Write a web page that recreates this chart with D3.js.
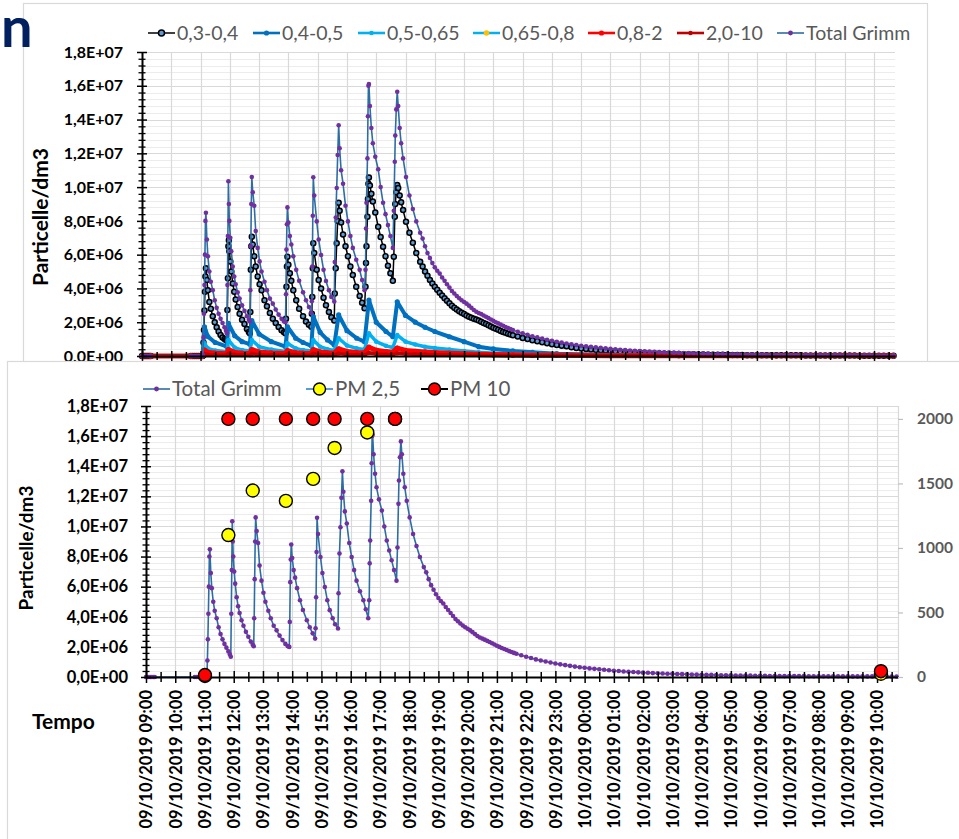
<!DOCTYPE html>
<html>
<head>
<meta charset="utf-8">
<script src="https://cdn.jsdelivr.net/npm/d3@7/dist/d3.min.js"></script>
<style>
  html, body { margin: 0; padding: 0; background: #fff; }
  svg { display: block; font-family: Lato, "Open Sans", "DejaVu Sans", sans-serif; }
</style>
</head>
<body>
<svg id="chart" width="959" height="839"></svg>
<script>
// ---------------------------------------------------------------------------
// Grimm particle counter, 09/10/2019 09:00 -> 10/10/2019 ~10:40
// times are minutes after 09/10/2019 09:00, counts in millions of particles/dm3
// ---------------------------------------------------------------------------
const minutes = [
  0, 3, 6, 9, 12, 15, 18, 100, 104, 108, 112, 116, 120, 124,
  125, 126, 127, 128, 129, 130, 131, 133, 135, 138, 141, 145, 149, 153, 157, 161, 165, 169, 172, 174,
  175, 176, 177, 178, 179, 181, 183, 186, 189, 192, 196, 200, 205, 210, 215, 219, 221,
  222, 223, 224, 225, 227, 230, 233, 237, 241, 245, 251, 256, 262, 268, 274, 280, 286, 291, 294,
  295, 296, 297, 298, 300, 303, 306, 310, 316, 322, 330, 336, 342, 347,
  348, 349, 350, 351, 353, 358, 362, 367, 372, 377, 383, 388, 394,
  395, 397, 399, 401, 403, 405, 408, 412, 417, 422, 427, 432, 439, 446, 451, 456,
  458, 459, 460, 462, 463, 464, 465, 467, 470, 473, 478, 484, 489, 494, 499, 504, 509, 514,
  516, 518, 519, 521, 523, 525, 528, 531, 535, 541, 548, 555, 562,
  570, 575, 580, 585, 590, 595, 600, 605, 610, 615, 620, 625, 630, 635, 640, 645, 650, 655, 660, 665,
  670, 675, 680, 685, 690, 695, 700, 705, 710, 715, 720, 725, 730, 735, 740, 745, 750, 755, 760,
  770, 780, 790, 800, 810, 820, 830, 840, 850, 860, 870, 880, 890, 900, 910, 920, 930, 940, 950, 960,
  970, 980, 990, 1000, 1010, 1020, 1030, 1040, 1050, 1060, 1070, 1080, 1090, 1100, 1110, 1120, 1130, 1140, 1150, 1160,
  1170, 1180, 1190, 1200, 1210, 1220, 1230, 1240, 1250, 1260, 1270, 1280, 1290, 1300, 1310, 1320, 1330, 1340, 1350, 1360,
  1370, 1380, 1390, 1400, 1410, 1420, 1430, 1440, 1450, 1460, 1470, 1480, 1490, 1500, 1510, 1520, 1530, 1540
];

const totalGrimm = [
  0, 0, 0, 0, 0, 0, 0, 0, 0, 0, 0, 0, 0, 0,
  0.05, 1.1, 2.5, 4.2, 6.0, 8.0, 8.48, 6.9, 5.9, 5.0, 4.4, 3.9, 3.3, 2.85, 2.5, 2.2, 1.95, 1.7, 1.5, 1.35,
  4.2, 7.1, 10.35, 9.0, 8.0, 7.0, 6.2, 5.3, 4.7, 4.25, 3.77, 3.4, 3.0, 2.67, 2.35, 2.15, 2.05,
  3.9, 6.5, 9.0, 10.6, 9.7, 8.9, 7.4, 6.4, 5.6, 5.0, 4.4, 3.9, 3.4, 3.1, 2.75, 2.45, 2.2, 2.05, 2.0,
  3.66, 6.3, 7.8, 8.8, 7.9, 7.1, 6.6, 5.9, 5.1, 4.45, 3.77, 3.3, 2.9, 2.55,
  3.24, 5.3, 8.3, 10.58, 9.5, 7.97, 6.9, 5.98, 5.1, 4.44, 3.9, 3.5, 3.22,
  5.56, 8.2, 9.95, 11.9, 13.66, 12.3, 11.0, 10.2, 8.9, 7.97, 7.1, 6.4, 5.7, 5.1, 4.5, 3.9,
  5.1, 7.55, 9.07, 11.7, 14.2, 16.0, 16.1, 14.8, 13.5, 12.6, 11.8, 11.06, 10.0, 9.07, 8.4, 7.75, 7.1, 6.4,
  8.6, 11.5, 13.05, 14.6, 15.65, 14.8, 13.5, 12.6, 11.7, 10.6, 9.5, 8.7, 7.97,
  7.3, 6.95, 6.5, 6.1, 5.8, 5.5, 5.25, 5.05, 4.88, 4.65, 4.45, 4.25, 4.05, 3.85, 3.7, 3.55, 3.42, 3.3, 3.2, 3.1,
  2.98, 2.85, 2.72, 2.62, 2.55, 2.48, 2.4, 2.32, 2.24, 2.16, 2.08, 2.0, 1.93, 1.86, 1.79, 1.72, 1.66, 1.6, 1.54,
  1.44, 1.35, 1.26, 1.17, 1.1, 1.03, 0.96, 0.9, 0.84, 0.79, 0.74, 0.69, 0.65, 0.61, 0.57, 0.54, 0.51, 0.48, 0.45, 0.42,
  0.4, 0.37, 0.35, 0.33, 0.31, 0.29, 0.28, 0.26, 0.25, 0.23, 0.22, 0.21, 0.2, 0.19, 0.18, 0.17, 0.16, 0.15, 0.14, 0.14,
  0.13, 0.12, 0.12, 0.11, 0.1, 0.1, 0.09, 0.09, 0.08, 0.08, 0.08, 0.07, 0.07, 0.07, 0.06, 0.06, 0.06, 0.06, 0.06, 0.05,
  0.05, 0.05, 0.05, 0.05, 0.05, 0.05, 0.04, 0.04, 0.04, 0.04, 0.04, 0.04, 0.04, 0.04, 0.03, 0.03, 0.03, 0.03
];

const size03_04 = [
  0, 0, 0, 0, 0, 0, 0, 0, 0, 0, 0, 0, 0, 0,
  0.03, 0.8, 1.54, 2.7, 3.8, 4.7, 5.2, 4.5, 3.9, 3.2, 2.8, 2.35, 2.0, 1.7, 1.45, 1.25, 1.1, 1.0, 0.95, 0.9,
  2.72, 4.6, 6.5, 6.86, 6.2, 5.6, 5.0, 4.3, 3.8, 3.35, 2.9, 2.5, 2.15, 1.9, 1.6, 1.42, 1.34,
  2.6, 5.1, 6.5, 7.06, 6.6, 5.9, 5.3, 4.7, 4.25, 3.9, 3.3, 2.95, 2.55, 2.2, 1.95, 1.72, 1.52, 1.4, 1.34,
  2.2, 4.1, 5.3, 5.88, 5.4, 4.9, 4.45, 3.9, 3.3, 2.8, 2.35, 2.05, 1.85, 1.73,
  2.5, 3.5, 5.2, 6.67, 6.1, 5.1, 4.5, 4.0, 3.45, 3.0, 2.6, 2.3, 2.1,
  3.7, 5.2, 6.67, 8.0, 9.07, 8.6, 7.9, 7.2, 6.5, 5.9, 5.3, 4.8, 4.1, 3.55, 3.15, 2.82,
  4.1, 5.5, 6.5, 8.24, 9.3, 10.2, 10.57, 10.1, 9.6, 9.15, 8.5, 7.65, 7.05, 6.47, 5.9, 5.35, 4.9, 4.46,
  5.88, 8.24, 9.0, 9.7, 10.12, 9.95, 9.5, 9.1, 8.64, 7.95, 7.3, 6.7, 6.1,
  5.58, 5.3, 5.0, 4.75, 4.5, 4.3, 4.1, 3.92, 3.75, 3.58, 3.42, 3.27, 3.12, 2.98, 2.86, 2.75, 2.65, 2.56, 2.48, 2.4,
  2.33, 2.27, 2.21, 2.16, 2.1, 2.03, 1.96, 1.89, 1.82, 1.75, 1.68, 1.61, 1.55, 1.48, 1.42, 1.37, 1.32, 1.27, 1.23,
  1.15, 1.07, 1.0, 0.93, 0.87, 0.81, 0.75, 0.7, 0.65, 0.61, 0.57, 0.52, 0.48, 0.45, 0.42, 0.39, 0.36, 0.34, 0.32, 0.3,
  0.28, 0.26, 0.24, 0.22, 0.21, 0.2, 0.18, 0.17, 0.16, 0.15, 0.14, 0.13, 0.12, 0.12, 0.11, 0.1, 0.1, 0.09, 0.09, 0.08,
  0.08, 0.07, 0.07, 0.07, 0.06, 0.06, 0.06, 0.05, 0.05, 0.05, 0.05, 0.05, 0.04, 0.04, 0.04, 0.04, 0.04, 0.04, 0.04, 0.03,
  0.03, 0.03, 0.03, 0.03, 0.03, 0.03, 0.03, 0.03, 0.03, 0.03, 0.02, 0.02, 0.02, 0.02, 0.02, 0.02, 0.02, 0.02
];

// the finer size classes, read at the troughs, peaks and along the decays
const minutesCoarse = [
  0, 18, 100, 124, 128, 135, 150, 174, 177, 190, 205, 221, 225, 240, 265, 294,
  298, 315, 330, 347, 351, 365, 380, 394, 403, 420, 440, 456, 465, 480, 500, 514,
  523, 540, 560, 580, 600, 630, 660, 690, 720, 760, 800, 850, 900, 960, 1020, 1100,
  1200, 1300, 1400, 1540
];
const size04_05 = [
  0, 0, 0, 0, 1.73, 1.15, 0.8, 0.55, 1.93, 1.2, 0.85, 0.7, 2.09, 1.3, 0.85, 0.55,
  1.73, 1.05, 0.8, 0.6, 2.33, 1.4, 0.95, 0.65, 2.43, 1.5, 1.05, 0.85, 3.31, 2.0, 1.45, 1.14,
  3.21, 2.4, 2.0, 1.7, 1.45, 1.14, 0.85, 0.55, 0.42, 0.3, 0.22, 0.14, 0.1, 0.07, 0.05, 0.04,
  0.03, 0.02, 0.02, 0.02
];
const size05_065 = [
  0, 0, 0, 0, 0.75, 0.45, 0.32, 0.25, 0.95, 0.5, 0.35, 0.3, 0.95, 0.55, 0.38, 0.27,
  0.75, 0.45, 0.35, 0.3, 0.95, 0.55, 0.4, 0.33, 1.05, 0.62, 0.45, 0.38, 1.34, 0.85, 0.6, 0.5,
  1.24, 0.85, 0.68, 0.55, 0.47, 0.38, 0.3, 0.22, 0.17, 0.12, 0.09, 0.06, 0.05, 0.03, 0.02, 0.02,
  0.01, 0.01, 0.01, 0.01
];
const size065_08 = [
  0, 0, 0, 0, 0.2, 0.12, 0.09, 0.07, 0.25, 0.14, 0.1, 0.08, 0.25, 0.15, 0.1, 0.08,
  0.2, 0.12, 0.09, 0.08, 0.25, 0.15, 0.11, 0.09, 0.28, 0.17, 0.12, 0.1, 0.35, 0.22, 0.16, 0.13,
  0.33, 0.22, 0.18, 0.15, 0.13, 0.1, 0.08, 0.06, 0.05, 0.03, 0.02, 0.02, 0.01, 0.01, 0.01, 0.01,
  0.01, 0, 0, 0
];
const size08_2 = [
  0, 0, 0, 0, 0.35, 0.22, 0.17, 0.14, 0.38, 0.22, 0.17, 0.15, 0.38, 0.24, 0.18, 0.15,
  0.32, 0.2, 0.17, 0.15, 0.38, 0.24, 0.19, 0.17, 0.42, 0.27, 0.21, 0.19, 0.52, 0.34, 0.26, 0.22,
  0.47, 0.33, 0.28, 0.24, 0.21, 0.17, 0.14, 0.11, 0.09, 0.07, 0.05, 0.04, 0.03, 0.02, 0.02, 0.01,
  0.01, 0.01, 0.01, 0.01
];
const size2_10 = [
  0, 0, 0, 0, 0.12, 0.08, 0.06, 0.05, 0.13, 0.08, 0.06, 0.05, 0.13, 0.08, 0.06, 0.05,
  0.11, 0.07, 0.06, 0.05, 0.13, 0.08, 0.06, 0.06, 0.15, 0.09, 0.07, 0.06, 0.18, 0.12, 0.09, 0.08,
  0.16, 0.12, 0.1, 0.09, 0.08, 0.06, 0.05, 0.04, 0.03, 0.02, 0.02, 0.01, 0.01, 0.01, 0.01, 0.01,
  0.01, 0, 0, 0
];

// PM readings (right axis)
const pmMinutes = [121, 169, 219, 287, 343, 387, 454, 511, 1508];
const pm25 = [8, 1100, 1445, 1365, 1535, 1775, 1895, 2000, 25];
const pm10 = [15, 2000, 2000, 2000, 2000, 2000, 2000, 2000, 45];

const hourLabels = [
  "09/10/2019 09:00", "09/10/2019 10:00", "09/10/2019 11:00", "09/10/2019 12:00",
  "09/10/2019 13:00", "09/10/2019 14:00", "09/10/2019 15:00", "09/10/2019 16:00",
  "09/10/2019 17:00", "09/10/2019 18:00", "09/10/2019 19:00", "09/10/2019 20:00",
  "09/10/2019 21:00", "09/10/2019 22:00", "09/10/2019 23:00", "10/10/2019 00:00",
  "10/10/2019 01:00", "10/10/2019 02:00", "10/10/2019 03:00", "10/10/2019 04:00",
  "10/10/2019 05:00", "10/10/2019 06:00", "10/10/2019 07:00", "10/10/2019 08:00",
  "10/10/2019 09:00", "10/10/2019 10:00"
];
const pmTicks = [0, 500, 1000, 1500, 2000];

const seriesNames = ["0,3-0,4", "0,4-0,5", "0,5-0,65", "0,65-0,8", "0,8-2", "2,0-10", "Total Grimm"];
const pmNames = ["Total Grimm", "PM 2,5", "PM 10"];

// ---------------------------------------------------------------------------
[totalGrimm, size03_04].forEach(a => {
  if (a.length !== minutes.length) throw new Error("fine length " + a.length + " vs " + minutes.length);
});
[size04_05, size05_065, size065_08, size08_2, size2_10].forEach(a => {
  if (a.length !== minutesCoarse.length) throw new Error("coarse length " + a.length + " vs " + minutesCoarse.length);
});

const svg = d3.select("#chart");
const MAX_MIN = 1543;
const hourTicks = d3.range(0, MAX_MIN, 60);
const halfTicks = d3.range(30, MAX_MIN, 60);
const FONT = "Lato, 'Open Sans', sans-serif";

function sciLabel(v) {
  const [m, e] = v.toExponential(1).split("e");
  const n = +e;
  return m.replace(".", ",") + "E" + (n < 0 ? "-" : "+") + String(Math.abs(n)).padStart(2, "0");
}

const pairs = (ts, vs) => ts.map((t, i) => ({ t, v: vs[i] * 1e6 }));

// grid lines shared by both panels
function drawFrame(g, x, y, opt) {
  const [x0, x1] = x.range();
  const [yb, yt] = y.range();
  const minorY = d3.range(0, 18e6 + 1, 4e5).filter(v => Math.round(v / 4e5) % 5 !== 0);
  const majorY = d3.range(0, 18e6 + 1, 2e6);

  g.append("g").selectAll("line").data(minorY).join("line")
    .attr("x1", x0).attr("x2", x1)
    .attr("y1", d => Math.round(y(d)) + 0.5).attr("y2", d => Math.round(y(d)) + 0.5)
    .attr("stroke", "#ececec").attr("stroke-width", 1);
  g.append("g").selectAll("line").data(majorY).join("line")
    .attr("x1", x0).attr("x2", x1)
    .attr("y1", d => Math.round(y(d)) + 0.5).attr("y2", d => Math.round(y(d)) + 0.5)
    .attr("stroke", "#d9d9d9").attr("stroke-width", 1.2);
  g.append("g").selectAll("line").data(hourTicks.slice(1)).join("line")
    .attr("x1", d => Math.round(x(d)) + 0.5).attr("x2", d => Math.round(x(d)) + 0.5)
    .attr("y1", yt).attr("y2", yb)
    .attr("stroke", "#d9d9d9").attr("stroke-width", 1.2);
  if (opt.rightEdge) {
    g.append("line").attr("x1", x1 + 0.5).attr("x2", x1 + 0.5).attr("y1", yt).attr("y2", yb)
      .attr("stroke", "#d9d9d9").attr("stroke-width", 1.2);
  }
}

function drawAxes(g, x, y, opt) {
  const [x0] = x.range();
  const [yb] = y.range();
  const minorY = d3.range(0, 18e6 + 1, 4e5).filter(v => Math.round(v / 4e5) % 5 !== 0);
  const majorY = d3.range(0, 18e6 + 1, 2e6);

  // y axis with ticks crossing the line
  const yMinor = g.append("g").attr("transform", `translate(${x0},0)`)
    .call(d3.axisLeft(y).tickValues(minorY).tickSize(3.5).tickFormat(""));
  yMinor.select(".domain").remove();
  yMinor.selectAll("line").attr("x1", 3.5).attr("stroke", "#000").attr("stroke-width", 1.3);

  const yMajor = g.append("g").attr("transform", `translate(${x0},0)`)
    .call(d3.axisLeft(y).tickValues(majorY).tickSize(5).tickSizeOuter(0).tickPadding(opt.yPad).tickFormat(sciLabel));
  yMajor.select(".domain").attr("stroke", "#000").attr("stroke-width", 2);
  yMajor.selectAll("line").attr("x1", 5).attr("stroke", "#000").attr("stroke-width", 1.5);
  yMajor.selectAll("text").attr("font-family", FONT).attr("font-weight", 700)
    .attr("font-size", opt.yFont).attr("fill", "#000");

  // time axis
  const xMinor = g.append("g").attr("transform", `translate(0,${yb})`)
    .call(d3.axisBottom(x).tickValues(halfTicks).tickSize(opt.minorTick).tickFormat(""));
  xMinor.select(".domain").remove();
  xMinor.selectAll("line").attr("y1", -opt.minorTick).attr("stroke", "#000").attr("stroke-width", 1.5);

  const xMajor = g.append("g").attr("transform", `translate(0,${yb})`)
    .call(d3.axisBottom(x).tickValues(hourTicks).tickSize(opt.majorTick).tickSizeOuter(0)
      .tickFormat(opt.xLabels ? (d, i) => hourLabels[i] : ""));
  xMajor.select(".domain").attr("stroke", "#000").attr("stroke-width", 2);
  xMajor.selectAll("line").attr("y1", -opt.majorTick).attr("stroke", "#000").attr("stroke-width", 1.5);
  if (opt.xLabels) {
    xMajor.selectAll("text")
      .attr("transform", "rotate(-90)")
      .attr("text-anchor", "end")
      .attr("x", -13).attr("y", 0).attr("dy", "0.36em")
      .attr("font-family", FONT).attr("font-weight", 700).attr("font-size", 16.5).attr("fill", "#000");
  }
}

function drawSeries(g, x, y, data, s) {
  const line = d3.line().x(d => x(d.t)).y(d => y(d.v));
  g.append("path").datum(data).attr("d", line)
    .attr("fill", "none").attr("stroke", s.line).attr("stroke-width", s.lw).attr("stroke-linejoin", "round");
  g.append("g").selectAll("circle").data(data).join("circle")
    .attr("cx", d => x(d.t)).attr("cy", d => y(d.v)).attr("r", s.r)
    .attr("fill", s.fill).attr("stroke", s.stroke || "none").attr("stroke-width", s.sw || 0);
}

function legendItem(g, x0, yc, label, s, fontSize) {
  g.append("line").attr("x1", x0).attr("x2", x0 + 27).attr("y1", yc).attr("y2", yc)
    .attr("stroke", s.line).attr("stroke-width", Math.min(s.lw, 2.6));
  g.append("circle").attr("cx", x0 + 13.5).attr("cy", yc).attr("r", s.lr || s.r)
    .attr("fill", s.fill).attr("stroke", s.stroke || "none").attr("stroke-width", s.sw || 0);
  g.append("text").attr("x", x0 + 29).attr("y", yc).attr("dy", "0.35em")
    .attr("font-family", FONT).attr("font-size", fontSize).attr("fill", "#595959").text(label);
}

// series styles
const styles = {
  s03: { line: "#000000", lw: 1.5, r: 2.5, fill: "#5B9BD5", stroke: "#000", sw: 1.5, lr: 3 },
  s04: { line: "#0070C0", lw: 4, r: 2.6, fill: "#0070C0" },
  s05: { line: "#00B0F0", lw: 3.5, r: 2.3, fill: "#00B0F0" },
  s065: { line: "#00B0F0", lw: 2.5, r: 2.2, fill: "#FFC000", lr: 2.8 },
  s08: { line: "#FF0000", lw: 5, r: 2.6, fill: "#FF0000" },
  s2: { line: "#C00000", lw: 3.5, r: 2.2, fill: "#C00000" },
  tot: { line: "#2E6DA4", lw: 1.6, r: 2.3, fill: "#7030A0", lr: 2.4 },
  pm25: { line: "#5B9BD5", lw: 2, r: 6.5, fill: "#FFFF00", stroke: "#000", sw: 1.4, lr: 6 },
  pm10: { line: "#000000", lw: 2, r: 6.5, fill: "#FF0000", stroke: "#000", sw: 1.4, lr: 6 }
};

// ------------------------------- upper panel -------------------------------
svg.append("rect").attr("x", 23.5).attr("y", 3.5).attr("width", 904).attr("height", 440)
  .attr("fill", "#fff").attr("stroke", "#d9d9d9").attr("stroke-width", 1.2);

const gTop = svg.append("g");
const xTop = d3.scaleLinear().domain([0, MAX_MIN]).range([142, 895]);
const yTop = d3.scaleLinear().domain([0, 18e6]).range([356, 52]);
drawFrame(gTop, xTop, yTop, { rightEdge: false });

const topSeries = [
  [pairs(minutes, size03_04), styles.s03],
  [pairs(minutesCoarse, size04_05), styles.s04],
  [pairs(minutesCoarse, size05_065), styles.s05],
  [pairs(minutesCoarse, size065_08), styles.s065],
  [pairs(minutesCoarse, size08_2), styles.s08],
  [pairs(minutesCoarse, size2_10), styles.s2],
  [pairs(minutes, totalGrimm), styles.tot]
];
topSeries.forEach(([d, s]) => drawSeries(gTop, xTop, yTop, d, s));
drawAxes(gTop, xTop, yTop, { yPad: 14, yFont: 16, majorTick: 5, minorTick: 4, xLabels: false });

gTop.append("text")
  .attr("transform", "translate(48,217) rotate(-90)")
  .attr("text-anchor", "middle")
  .attr("font-family", FONT).attr("font-weight", 700).attr("font-size", 21).attr("fill", "#000")
  .text("Particelle/dm3");

const topLegendX = [148, 253, 358, 473, 588, 677, 777];
const topLegendStyles = [styles.s03, styles.s04, styles.s05, styles.s065, styles.s08, styles.s2, styles.tot];
seriesNames.forEach((n, i) => legendItem(gTop, topLegendX[i], 33, n, topLegendStyles[i], 19.5));

// ------------------------------- lower panel -------------------------------
svg.append("rect").attr("x", 7.5).attr("y", 361.5).attr("width", 980).attr("height", 520)
  .attr("fill", "#fff").attr("stroke", "#d9d9d9").attr("stroke-width", 1.2);

const gBot = svg.append("g");
const xBot = d3.scaleLinear().domain([0, MAX_MIN]).range([146, 898]);
const yBot = d3.scaleLinear().domain([0, 18e6]).range([677, 406]);
const yPm = d3.scaleLinear().domain([0, 2100]).range([677, 406]);
drawFrame(gBot, xBot, yBot, { rightEdge: true });

drawSeries(gBot, xBot, yBot, pairs(minutes, totalGrimm), styles.tot);
drawAxes(gBot, xBot, yBot, { yPad: 13, yFont: 16.5, majorTick: 6, minorTick: 5, xLabels: true });

// PM markers on the secondary axis
const pmPts = (vals) => pmMinutes.map((t, i) => ({ t, v: vals[i] }));
[[pm25, styles.pm25], [pm10, styles.pm10]].forEach(([vals, s]) => {
  gBot.append("g").selectAll("circle").data(pmPts(vals)).join("circle")
    .attr("cx", d => xBot(d.t)).attr("cy", d => yPm(d.v)).attr("r", s.r)
    .attr("fill", s.fill).attr("stroke", s.stroke).attr("stroke-width", s.sw);
});

const yRight = gBot.append("g").attr("transform", "translate(898,0)")
  .call(d3.axisRight(yPm).tickValues(pmTicks).tickSize(5).tickSizeOuter(0).tickPadding(14)
    .tickFormat(d3.format("d")));
yRight.select(".domain").remove();
yRight.selectAll("line").attr("stroke", "#bfbfbf").attr("stroke-width", 1.2);
yRight.selectAll("text").attr("font-family", FONT).attr("font-weight", 700)
  .attr("font-size", 15.5).attr("fill", "#595959");

gBot.append("text")
  .attr("transform", "translate(33,548) rotate(-90)")
  .attr("text-anchor", "middle")
  .attr("font-family", FONT).attr("font-weight", 700).attr("font-size", 19).attr("fill", "#000")
  .text("Particelle/dm3");

gBot.append("text").attr("x", 32).attr("y", 729)
  .attr("font-family", FONT).attr("font-weight", 700).attr("font-size", 21).attr("fill", "#000")
  .text("Tempo");

const botLegendX = [143, 306, 421];
[styles.tot, styles.pm25, styles.pm10].forEach((s, i) => legendItem(gBot, botLegendX[i], 389, pmNames[i], s, 20.5));

// slide heading fragment at the top-left corner
svg.append("text").attr("x", 1).attr("y", 47)
  .attr("font-family", FONT).attr("font-weight", 700).attr("font-size", 56).attr("fill", "#002060")
  .text("n");
</script>
</body>
</html>
